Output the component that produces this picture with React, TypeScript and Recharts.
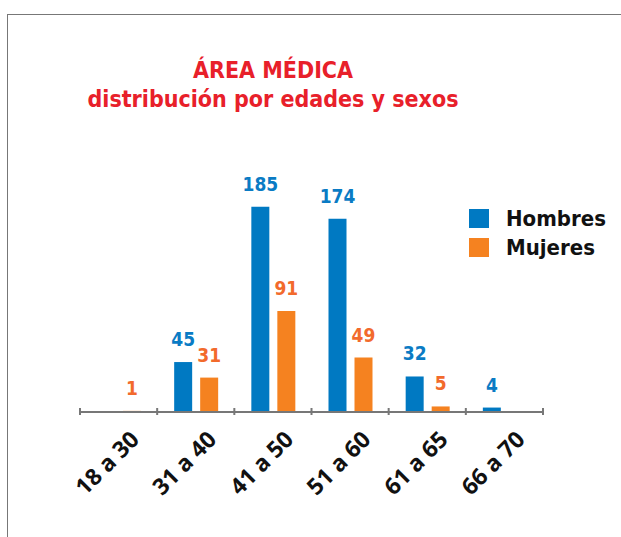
import React from 'react';
import { BarChart, Bar, XAxis, YAxis, Legend, LabelList } from 'recharts';

const ageGroups = ['18 a 30', '31 a 40', '41 a 50', '51 a 60', '61 a 65', '66 a 70'];
const hombres = [0, 45, 185, 174, 32, 4];
const mujeres = [1, 31, 91, 49, 5, 0];

const data = ageGroups.map((g, i) => ({ name: g, Hombres: hombres[i], Mujeres: mujeres[i] }));

const BLUE = '#0079C2';
const ORANGE = '#F58220';
const ORANGE_TXT = '#F26A2C';
const condensed = '"DejaVu Sans Condensed", "DejaVu Sans", sans-serif';
const sans = '"Open Sans", Lato, sans-serif';

const AxisTick = (props: any) => {
  const { x, y, payload, index } = props;
  const half = 77.17 / 2;
  const tx = x + 22;
  const ty = y + 29;
  return (
    <g>
      <line x1={x - half} x2={x - half} y1={y - 4} y2={y + 3} stroke="#777" strokeWidth={2} />
      {index === ageGroups.length - 1 && (
        <line x1={x + half} x2={x + half} y1={y - 4} y2={y + 3} stroke="#777" strokeWidth={2} />
      )}
      <text
        x={tx}
        y={ty}
        textAnchor="end"
        transform={`rotate(-45, ${tx}, ${ty})`}
        fontFamily={sans}
        fontWeight={700}
        fontSize={23}
        fill="#111"
      >
        {payload.value}
      </text>
    </g>
  );
};

const makeLabel = (color: string) => (props: any) => {
  const { x, y, width, value } = props;
  if (!value) return null;
  return (
    <text
      x={x + width / 2}
      y={y - 16}
      textAnchor="middle"
      fontFamily={condensed}
      fontWeight={700}
      fontSize={19}
      fill={color}
    >
      {value}
    </text>
  );
};

const LegendBox = (props: any) => {
  const { payload } = props;
  return (
    <div>
      {(payload || []).map((p: any) => (
        <div key={p.value} style={{ display: 'flex', alignItems: 'center', height: 29 }}>
          <span style={{ width: 20, height: 19, background: p.color, display: 'inline-block', marginRight: 17 }} />
          <span style={{ fontFamily: condensed, fontWeight: 700, fontSize: 22, color: '#111' }}>{p.value}</span>
        </div>
      ))}
    </div>
  );
};

export default function App() {
  return (
    <div style={{ position: 'absolute', left: 0, top: 0, width: 621, height: 537, background: '#fff', overflow: 'hidden' }}>
      <div
        style={{
          position: 'absolute',
          left: 7,
          top: 14,
          width: 640,
          height: 560,
          borderLeft: '1px solid #777',
          borderTop: '1px solid #777',
        }}
      />
      <div
        style={{
          position: 'absolute',
          left: 0,
          width: 546,
          top: 56,
          textAlign: 'center',
          fontFamily: condensed,
          fontWeight: 700,
          fontSize: 23,
          lineHeight: '29px',
          color: '#E8202A',
        }}
      >
        <div>ÁREA MÉDICA</div>
        <div>distribución por edades y sexos</div>
      </div>
      <BarChart
        width={621}
        height={537}
        data={data}
        margin={{ top: 190, right: 78, bottom: 0, left: 80 }}
        barSize={18}
        barGap={8}
        style={{ position: 'absolute', left: 0, top: 0 }}
      >
        <XAxis
          dataKey="name"
          height={125}
          tickLine={false}
          tickSize={0}
          tickMargin={0}
          axisLine={{ stroke: '#777', strokeWidth: 2 }}
          tick={<AxisTick />}
          interval={0}
        />
        <YAxis hide domain={[0, 200]} />
        <Legend
          layout="vertical"
          verticalAlign="middle"
          align="center"
          content={<LegendBox />}
          wrapperStyle={{ position: 'absolute', left: 469, top: 204, width: 150 }}
        />
        <Bar dataKey="Hombres" fill={BLUE} isAnimationActive={false}>
          <LabelList dataKey="Hombres" content={makeLabel('#0A7BC4')} />
        </Bar>
        <Bar dataKey="Mujeres" fill={ORANGE} isAnimationActive={false}>
          <LabelList dataKey="Mujeres" content={makeLabel(ORANGE_TXT)} />
        </Bar>
      </BarChart>
    </div>
  );
}
